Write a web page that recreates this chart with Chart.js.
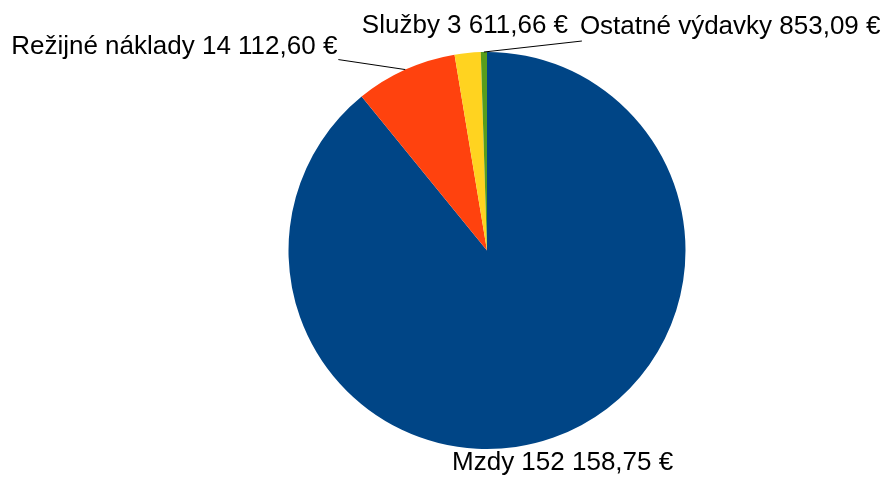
<!DOCTYPE html>
<html>
<head>
<meta charset="utf-8">
<script src="https://cdn.jsdelivr.net/npm/chart.js@4/dist/chart.umd.min.js"></script>
<style>
  html, body { margin: 0; padding: 0; background: #fff; }
  #wrap { width: 883px; height: 479px; }
</style>
</head>
<body>
<div id="wrap"><canvas id="costPie" width="883" height="479"></canvas></div>
<script>
// chart values
const categories = ['Mzdy', 'Režijné náklady', 'Služby', 'Ostatné výdavky'];
const amounts = [152158.75, 14112.60, 3611.66, 853.09];
const valueLabels = ['152 158,75 €', '14 112,60 €', '3 611,66 €', '853,09 €'];
const sliceColors = ['#004586', '#ff420e', '#ffd320', '#579d1c'];

// labels drawn next to the slices; leader lines for the crowded ones
const outsideLabels = {
    id: 'outsideLabels',
    afterDraw(chart, args, opts) {
        const ctx = chart.ctx;
        const meta = chart.getDatasetMeta(0);
        ctx.save();
        ctx.font = opts.font;
        ctx.fillStyle = '#000';
        meta.data.forEach((arc, i) => {
            const p = arc.getProps(['x', 'y', 'startAngle', 'endAngle', 'outerRadius'], true);
            const mid = (p.startAngle + p.endAngle) / 2;
            const ax = p.x + Math.cos(mid) * p.outerRadius;
            const ay = p.y + Math.sin(mid) * p.outerRadius;
            const text = categories[i] + ' ' + valueLabels[i];
            const lead = opts.leaders[i];
            if (lead) {
                ctx.strokeStyle = '#000';
                ctx.lineWidth = 1;
                ctx.beginPath();
                ctx.moveTo(ax, ay);
                ctx.lineTo(ax + lead.lx, ay + lead.ly);
                ctx.stroke();
                ctx.textAlign = lead.align;
                ctx.textBaseline = 'alphabetic';
                ctx.fillText(text, ax + lead.tx, ay + lead.ty);
            } else {
                const r = p.outerRadius + opts.offset;
                ctx.textAlign = 'center';
                ctx.textBaseline = 'middle';
                ctx.fillText(text, p.x + Math.cos(mid) * r, p.y + Math.sin(mid) * r);
            }
        });
        ctx.restore();
    }
};

const data = {
    labels: categories,
    datasets: [{
        data: amounts,
        backgroundColor: sliceColors,
        borderWidth: 0
    }]
};

const config = {
    type: 'pie',
    data: data,
    options: {
        responsive: false,
        animation: false,
        layout: {
            padding: { top: 52, bottom: 30, left: 288, right: 197 }
        },
        plugins: {
            legend: { display: false },
            tooltip: { enabled: false },
            outsideLabels: {
                font: '26px "Liberation Sans", Arial, sans-serif',
                offset: 27,
                leaders: {
                    1: { lx: -67, ly: -10, tx: -68, ty: -16, align: 'right' },
                    3: { lx: 98, ly: -11, tx: 96, ty: -18, align: 'left' }
                }
            }
        }
    },
    plugins: [outsideLabels]
};

const myChart = new Chart(document.getElementById('costPie').getContext('2d'), config);
</script>
</body>
</html>
